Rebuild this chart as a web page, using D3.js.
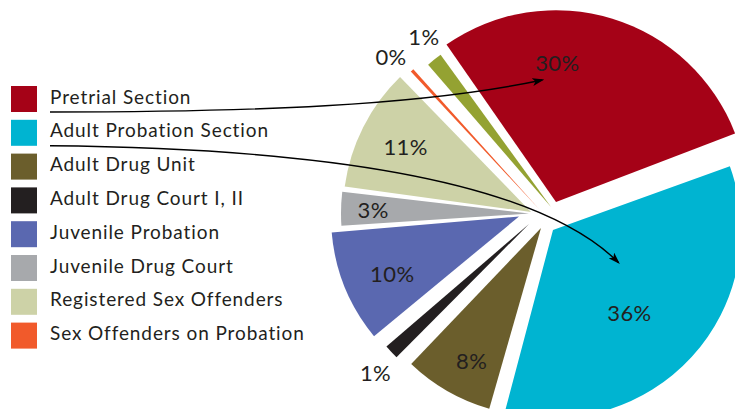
<!DOCTYPE html>
<html>
<head>
<meta charset="utf-8">
<script src="https://cdn.jsdelivr.net/npm/d3@7"></script>
<style>
  body { margin: 0; background: #fff; }
  text { font-family: Lato, "Open Sans", sans-serif; fill: #231f20; }
</style>
</head>
<body>
<svg id="chart"></svg>
<script>
// slices, clockwise from the top (the last one has no legend entry)
const categories = [
    "Pretrial Section",
    "Adult Probation Section",
    "Adult Drug Unit",
    "Adult Drug Court I, II",
    "Juvenile Probation",
    "Juvenile Drug Court",
    "Registered Sex Offenders",
    "Sex Offenders on Probation",
    "Other"
];
const values = [30, 36, 8, 1.3, 10, 3, 11, 0.3, 1.4];
const legendCount = 8;

const colors = ["#a50217", "#00b4d1", "#6b5e2c", "#231f20", "#5a68b0",
                "#a7a9ac", "#cdd2a7", "#f15a2b", "#94a232"];

// layout
const width = 735, height = 409;
const cx = 545, cy = 215, radius = 188;
const startDeg = -35.4;

// how far each slice is pulled out of the pie [dx, dy], and its size
const sliceShift = [[11, -13], [8, 15], [-4, 13], [-16, 9], [-26, 1.5],
                    [-16, -1.5], [-14, -3], [-6, -6], [6, -8]];
const sliceScale = [1.02, 1, 1, 1, 1, 1, 1, 1, 1];
// label placement: radius and angle nudge (deg) around the slice middle
const labelRadius = [153.5, 129, 163, 231.5, 163.5, 172, 155.5, 221, 216];
const labelTurn = [-12.5, 6.6, -3.1, 0, 1.3, 0.4, -0.5, -1.7, 4.3];

const svg = d3.select("#chart")
    .attr("width", width)
    .attr("height", height);

const pie = d3.pie()
    .sort(null)
    .value(d => d)
    .startAngle(startDeg * Math.PI / 180)
    .endAngle(startDeg * Math.PI / 180 + 2 * Math.PI)
    .padAngle(0.02);

const arcs = pie(values);
const total = d3.sum(values);

const arc = d3.arc()
    .innerRadius(0)
    .outerRadius(d => radius * sliceScale[d.index]);

const pieGroup = svg.append("g")
    .attr("transform", `translate(${cx}, ${cy})`);

pieGroup.selectAll(".slice")
    .data(arcs)
    .join("path")
    .attr("class", "slice")
    .attr("transform", (d, i) => `translate(${sliceShift[i][0]}, ${sliceShift[i][1]})`)
    .attr("fill", (d, i) => colors[i])
    .attr("d", arc);

// percentage labels
function labelPos(d, i) {
    let a = (d.startAngle + d.endAngle) / 2 + labelTurn[i] * Math.PI / 180;
    return [labelRadius[i] * Math.sin(a), -labelRadius[i] * Math.cos(a)];
}

pieGroup.selectAll(".pct")
    .data(arcs)
    .join("text")
    .attr("class", "pct")
    .attr("x", (d, i) => labelPos(d, i)[0])
    .attr("y", (d, i) => labelPos(d, i)[1])
    .attr("text-anchor", "middle")
    .attr("dominant-baseline", "central")
    .style("font-size", "22px")
    .style("letter-spacing", "0.4px")
    .text(d => Math.round(d.value / total * 100) + "%");

// legend
const rowH = 33.8;
const legend = svg.append("g")
    .attr("transform", "translate(11, 86)");

const rows = legend.selectAll(".row")
    .data(categories.slice(0, legendCount))
    .join("g")
    .attr("class", "row")
    .attr("transform", (d, i) => `translate(0, ${i * rowH})`);

rows.append("rect")
    .attr("width", 26)
    .attr("height", 26)
    .attr("fill", (d, i) => colors[i]);

rows.append("text")
    .attr("x", 39)
    .attr("y", 17.5)
    .style("font-size", "19px")
    .style("letter-spacing", "0.9px")
    .text(d => d);

// arrows from the first two legend rows to their slices
svg.append("defs").append("marker")
    .attr("id", "head")
    .attr("viewBox", "0 0 12 8")
    .attr("refX", 10)
    .attr("refY", 4)
    .attr("markerWidth", 12)
    .attr("markerHeight", 8)
    .attr("markerUnits", "userSpaceOnUse")
    .attr("orient", "auto")
    .append("path")
    .attr("d", "M0,0 L12,4 L0,8 L3,4 Z")
    .attr("fill", "#000");

function arrowPath(i, endDx, endDy, c1, c2) {
    let p = labelPos(arcs[i], i);
    let x0 = 50, y0 = 86 + i * rowH + 26;
    let x1 = cx + p[0] + endDx, y1 = cy + p[1] + endDy;
    let path = d3.path();
    path.moveTo(x0, y0);
    path.bezierCurveTo(c1[0], c1[1], c2[0], c2[1], x1, y1);
    return path.toString();
}

svg.append("path")
    .attr("d", arrowPath(0, -15, 18, [250, 112], [420, 106]))
    .attr("fill", "none")
    .attr("stroke", "#000")
    .attr("stroke-width", 1.4)
    .attr("marker-end", "url(#head)");

svg.append("path")
    .attr("d", arrowPath(1, -11, -50, [300, 148], [530, 175]))
    .attr("fill", "none")
    .attr("stroke", "#000")
    .attr("stroke-width", 1.4)
    .attr("marker-end", "url(#head)");
</script>
</body>
</html>
